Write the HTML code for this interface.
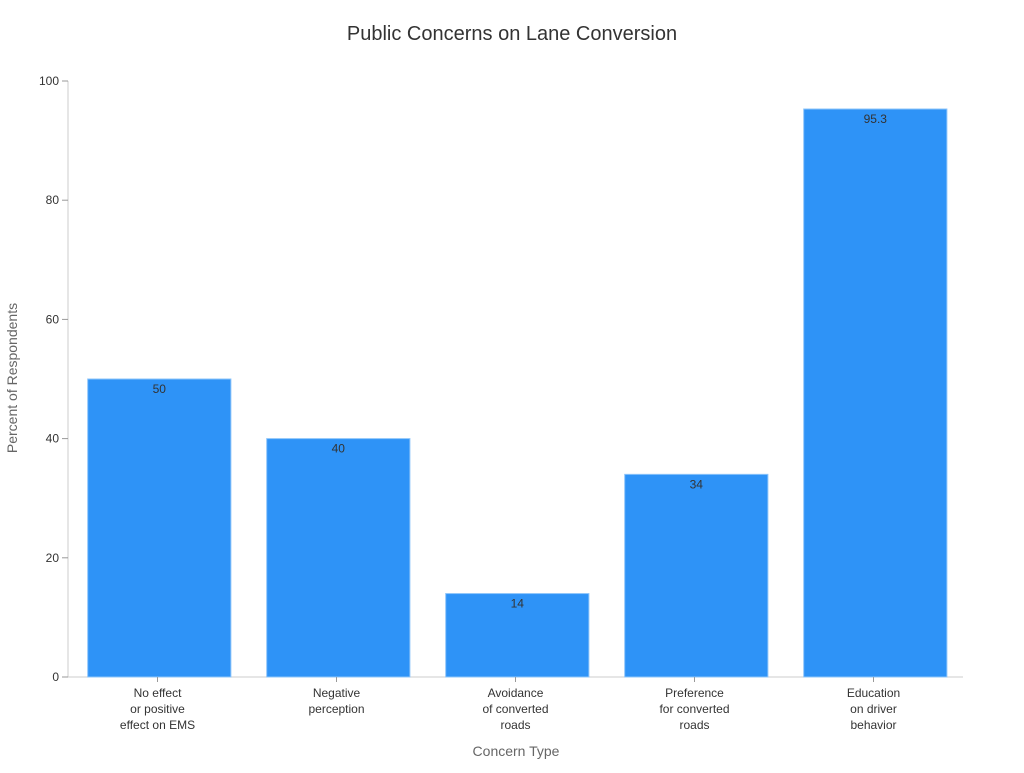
<!DOCTYPE html>
<html><head><meta charset="utf-8"><style>
body{margin:0;background:#fff;font-family:"Liberation Sans","DejaVu Sans",sans-serif}
</style></head><body>
<svg id="chart" width="1024" height="768" xmlns="http://www.w3.org/2000/svg" font-family="Liberation Sans, DejaVu Sans, sans-serif">
<text x="512" y="40" text-anchor="middle" font-size="20" fill="#333">Public Concerns on Lane Conversion</text>
<text transform="translate(17,378) rotate(-90)" text-anchor="middle" font-size="14" fill="#666">Percent of Respondents</text>
<text x="516" y="756" text-anchor="middle" font-size="14" fill="#666">Concern Type</text>
<g id="plot"></g>
</svg>
<script>
const categories=[["No effect","or positive","effect on EMS"],["Negative","perception"],["Avoidance","of converted","roads"],["Preference","for converted","roads"],["Education","on driver","behavior"]];
const values=[50,40,14,34,95.3];
const valueLabels=["50","40","14","34","95.3"];
const yTicks=[0,20,40,60,80,100];
const NS="http://www.w3.org/2000/svg";
const g=document.getElementById('plot');
const X0=68,X1=963,Y0=677,Y1=81,yMax=100;
const y=v=>Y0-(v/yMax)*(Y0-Y1);
const band=(X1-X0)/categories.length;
const bx=i=>X0+i*band+band*0.11;
const bw=band*0.8;
function mk(t,a){const e=document.createElementNS(NS,t);for(const k in a)e.setAttribute(k,a[k]);g.appendChild(e);return e;}
let e=mk('line',{x1:X0,y1:Y1,x2:X0,y2:Y0,stroke:'#ccc'});


e=mk('line',{x1:X0,y1:Y0,x2:X1,y2:Y0,stroke:'#ccc'});


yTicks.forEach(t=>{
 const tk=mk('line',{x1:X0-6,x2:X0,y1:y(t),y2:y(t),stroke:'#999'});
 
 
 const tx=mk('text',{x:X0-9,y:y(t)+4,'text-anchor':'end','font-size':12,fill:'#333'});
 tx.textContent=t;
 
 
});
values.forEach((v,i)=>{
 const r=mk('rect',{x:bx(i),y:y(v),width:bw,height:Y0-y(v),fill:'#2e93f7',stroke:'#8cc4fa','stroke-width':1});
 
 
 const l=mk('text',{x:bx(i)+bw/2,y:y(v)+14,'text-anchor':'middle','font-size':12,fill:'#333'});
 l.textContent=valueLabels[i];
 
 
 const cx=X0+band*(i+0.5);
 const tk=mk('line',{x1:cx,x2:cx,y1:Y0,y2:Y0+5,stroke:'#999'});
 
 
 categories[i].forEach((s,j)=>{
  const t=mk('text',{x:cx,y:Y0+20+j*16,'text-anchor':'middle','font-size':12,fill:'#333'});
  t.textContent=s;
  
  
 });
});
</script>
</body></html>
